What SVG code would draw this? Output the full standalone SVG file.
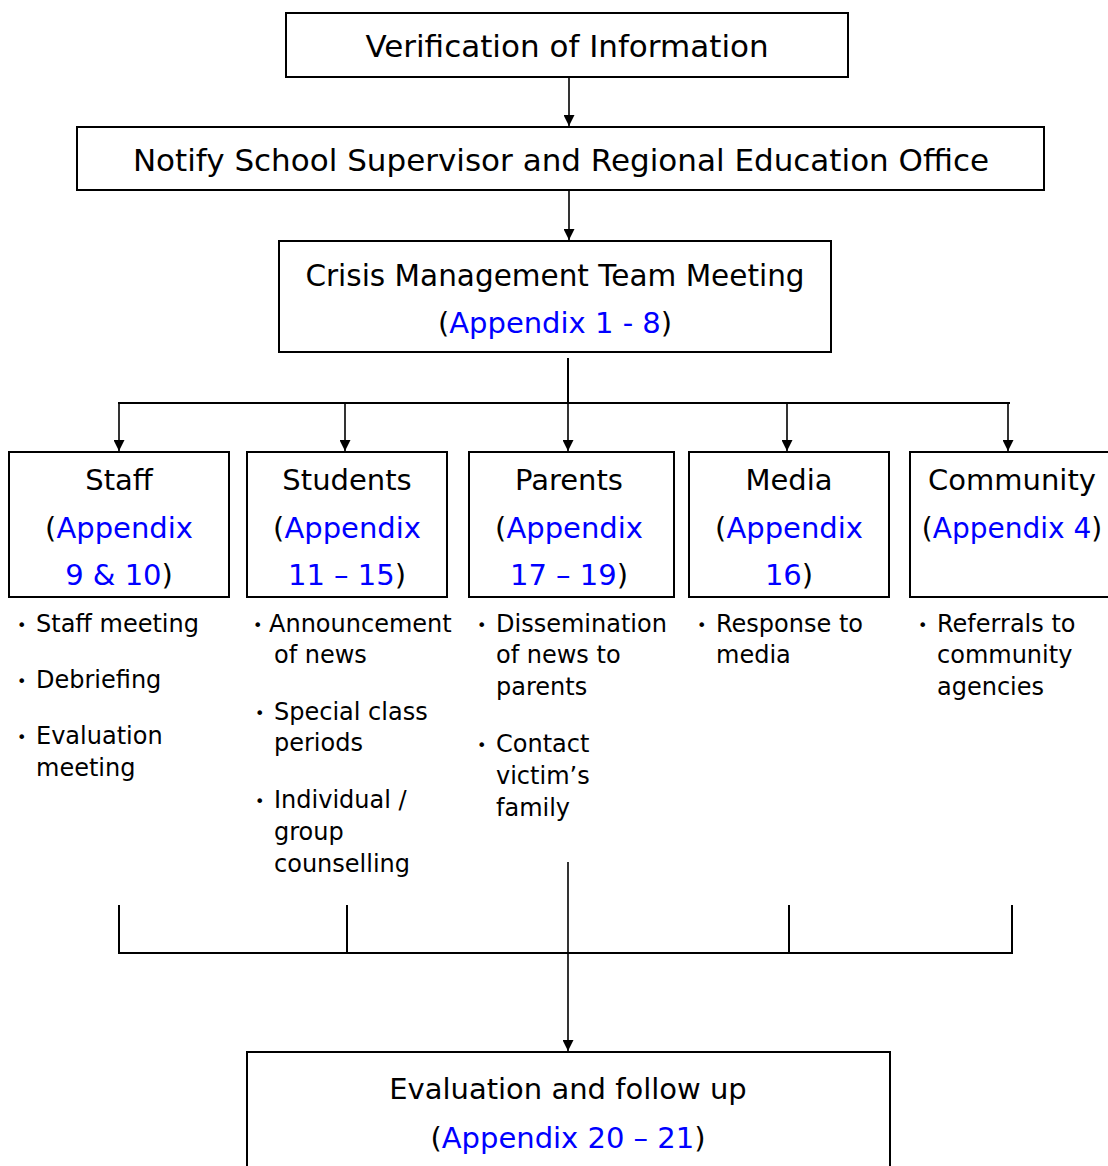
<svg xmlns="http://www.w3.org/2000/svg" width="1108" height="1166" viewBox="0 0 1108 1166">
<defs>
<marker id="ah" viewBox="0 0 10 10" refX="10" refY="5" markerWidth="11" markerHeight="11" markerUnits="userSpaceOnUse" orient="auto">
<path d="M0,0 L10,5 L0,10 z" fill="#000"/>
</marker>
<style>
.box{fill:#fff;stroke:#000;stroke-width:2}
.t{font-family:"DejaVu Sans","Liberation Sans",sans-serif;font-size:29px;fill:#000;text-anchor:middle}
.tl{font-size:31px}
.b{font-family:"DejaVu Sans","Liberation Sans",sans-serif;font-size:24px;fill:#000}
.bl{font-family:"DejaVu Sans","Liberation Sans",sans-serif;font-size:16px;fill:#000}
.a{fill:#0000ff}
.c{stroke:#000;stroke-width:2;fill:none}
.ca{stroke:#000;stroke-width:1.6;fill:none;marker-end:url(#ah)}
</style>
</defs>
<rect width="1108" height="1166" fill="#fff"/>
<g id="connectors">
<line class="ca" x1="569" y1="78" x2="569" y2="126"/>
<line class="ca" x1="569" y1="191" x2="569" y2="240"/>
<line class="c" x1="568" y1="358" x2="568" y2="403"/>
<line class="c" x1="118" y1="403" x2="1010" y2="403"/>
<line class="ca" x1="119" y1="403" x2="119" y2="451"/>
<line class="ca" x1="345" y1="403" x2="345" y2="451"/>
<line class="ca" x1="568" y1="403" x2="568" y2="451"/>
<line class="ca" x1="787" y1="403" x2="787" y2="451"/>
<line class="ca" x1="1008" y1="403" x2="1008" y2="451"/>
<line class="c" x1="119" y1="905" x2="119" y2="954"/>
<line class="c" x1="347" y1="905" x2="347" y2="954"/>
<line class="c" x1="789" y1="905" x2="789" y2="954"/>
<line class="c" x1="1012" y1="905" x2="1012" y2="954"/>
<line class="c" x1="118" y1="953" x2="1013" y2="953"/>
<line class="ca" x1="568" y1="862" x2="568" y2="1051"/>
</g>
<g id="verification">
<rect class="box" x="286" y="13" width="562" height="64"/>
<text class="t tl" x="567" y="57">Verification of Information</text>
</g>
<g id="notify">
<rect class="box" x="77" y="127" width="967" height="63"/>
<text class="t tl" x="561" y="171">Notify School Supervisor and Regional Education Office</text>
</g>
<g id="crisis">
<rect class="box" x="279" y="241" width="552" height="111"/>
<text class="t" x="555" y="286" style="font-size:29.5px">Crisis Management Team Meeting</text>
<text class="t" x="555" y="333">(<tspan class="a">Appendix 1 - 8</tspan>)</text>
</g>
<g id="staff">
<rect class="box" x="9" y="452" width="220" height="145"/>
<text class="t" x="119" y="490">Staff</text>
<text class="t" x="119" y="538">(<tspan class="a">Appendix</tspan></text>
<text class="t" x="119" y="585"><tspan class="a">9 &amp; 10</tspan>)</text>
<text class="bl" x="17" y="631">•</text>
<text class="b" x="36" y="632">Staff meeting</text>
<text class="bl" x="17" y="687">•</text>
<text class="b" x="36" y="688">Debriefing</text>
<text class="bl" x="17" y="743">•</text>
<text class="b" x="36" y="744">Evaluation</text>
<text class="b" x="36" y="776">meeting</text>
</g>
<g id="students">
<rect class="box" x="247" y="452" width="200" height="145"/>
<text class="t" x="347" y="490">Students</text>
<text class="t" x="347" y="538">(<tspan class="a">Appendix</tspan></text>
<text class="t" x="347" y="585"><tspan class="a">11 – 15</tspan>)</text>
<text class="bl" x="253" y="631">•</text>
<text class="b" x="269" y="632">Announcement</text>
<text class="b" x="274" y="663">of news</text>
<text class="bl" x="255" y="719">•</text>
<text class="b" x="274" y="720">Special class</text>
<text class="b" x="274" y="751">periods</text>
<text class="bl" x="255" y="807">•</text>
<text class="b" x="274" y="808">Individual /</text>
<text class="b" x="274" y="840">group</text>
<text class="b" x="274" y="872">counselling</text>
</g>
<g id="parents">
<rect class="box" x="469" y="452" width="205" height="145"/>
<text class="t" x="569" y="490">Parents</text>
<text class="t" x="569" y="538">(<tspan class="a">Appendix</tspan></text>
<text class="t" x="569" y="585"><tspan class="a">17 – 19</tspan>)</text>
<text class="bl" x="477" y="631">•</text>
<text class="b" x="496" y="632">Dissemination</text>
<text class="b" x="496" y="663">of news to</text>
<text class="b" x="496" y="695">parents</text>
<text class="bl" x="477" y="751">•</text>
<text class="b" x="496" y="752">Contact</text>
<text class="b" x="496" y="784">victim’s</text>
<text class="b" x="496" y="816">family</text>
</g>
<g id="media">
<rect class="box" x="689" y="452" width="200" height="145"/>
<text class="t" x="789" y="490">Media</text>
<text class="t" x="789" y="538">(<tspan class="a">Appendix</tspan></text>
<text class="t" x="789" y="585"><tspan class="a">16</tspan>)</text>
<text class="bl" x="697" y="631">•</text>
<text class="b" x="716" y="632">Response to</text>
<text class="b" x="716" y="663">media</text>
</g>
<g id="community">
<rect class="box" x="910" y="452" width="210" height="145"/>
<text class="t" x="1012" y="490">Community</text>
<text class="t" x="1012" y="538" style="font-size:28px">(<tspan class="a">Appendix 4</tspan>)</text>
<text class="bl" x="918" y="631">•</text>
<text class="b" x="937" y="632">Referrals to</text>
<text class="b" x="937" y="663">community</text>
<text class="b" x="937" y="695">agencies</text>
</g>
<g id="evaluation">
<rect class="box" x="247" y="1052" width="643" height="130"/>
<text class="t" x="568" y="1099">Evaluation and follow up</text>
<text class="t" x="568" y="1148">(<tspan class="a">Appendix 20 – 21</tspan>)</text>
</g>
</svg>
